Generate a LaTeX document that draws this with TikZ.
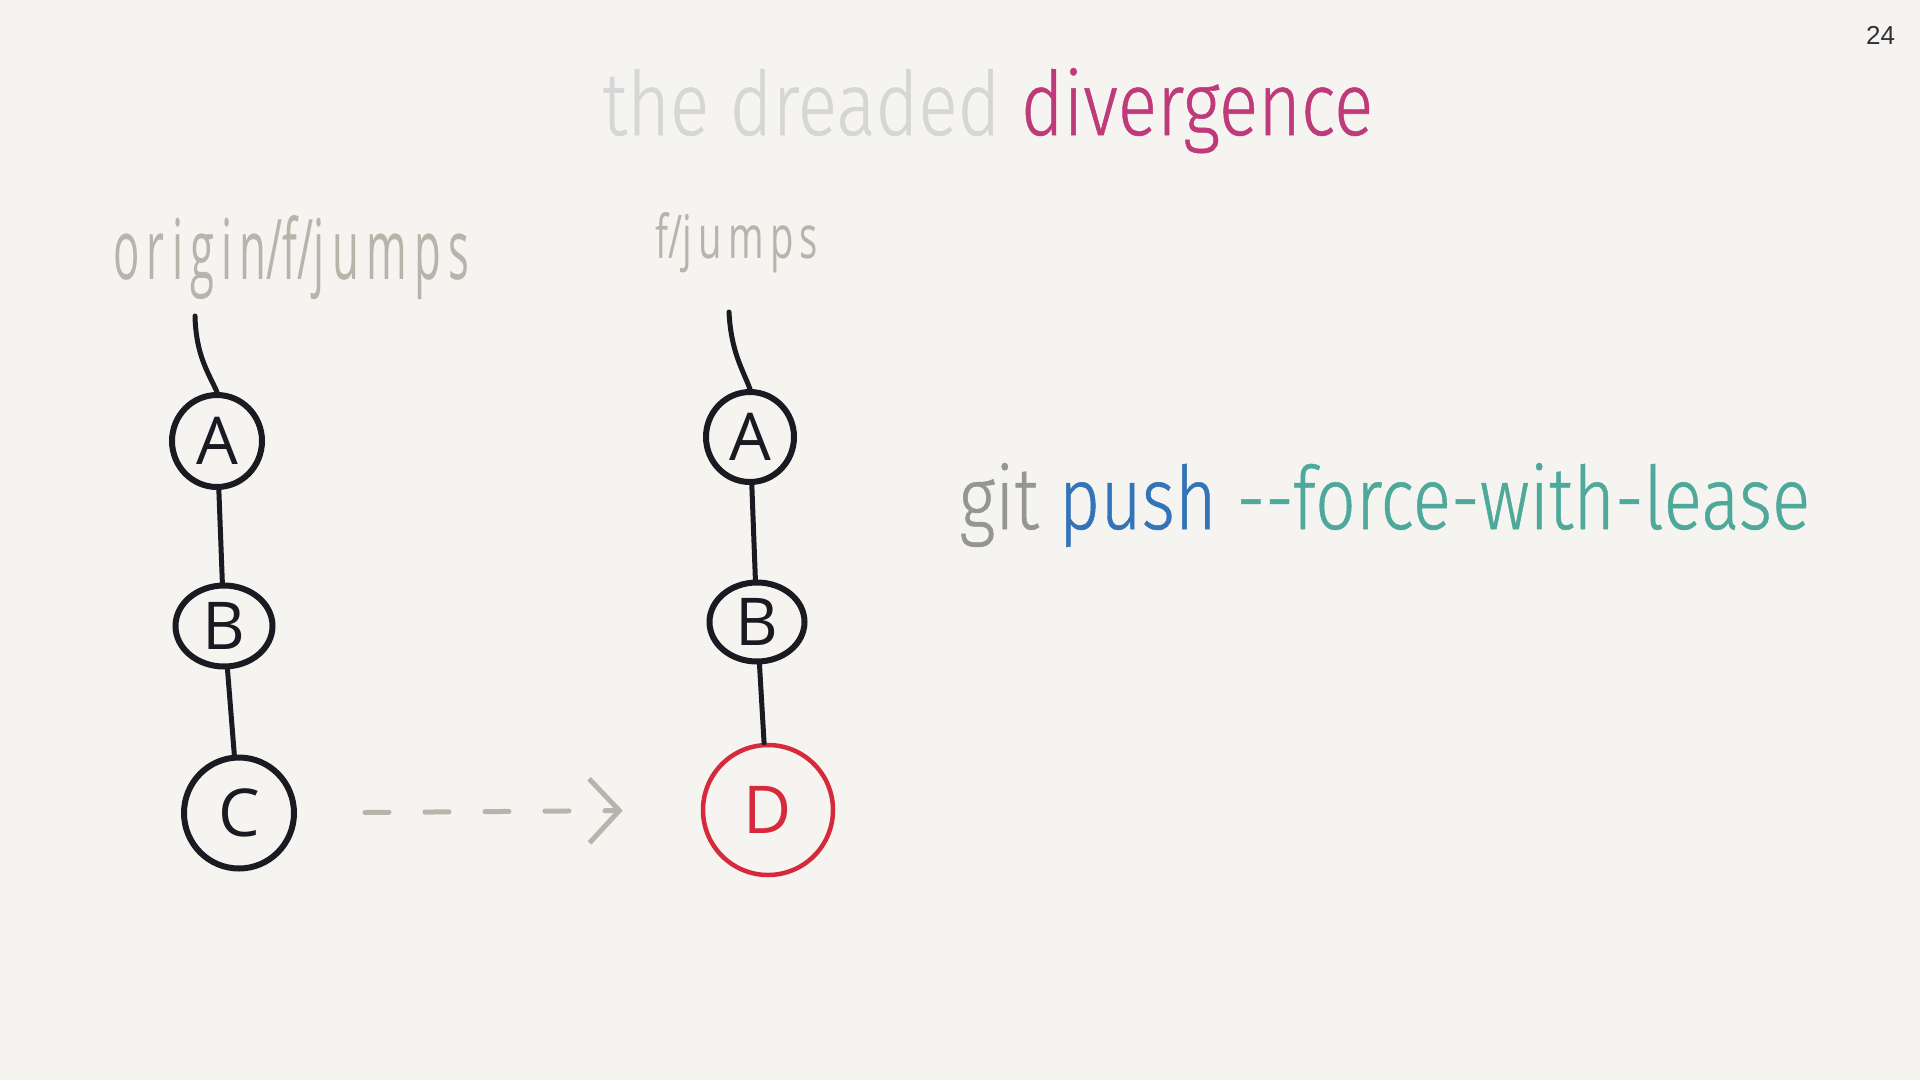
\documentclass[tikz,border=0pt]{standalone}
\usepackage{fontspec}
\setmainfont{Carlito}
\newfontfamily\lightfont[FakeBold=0.6]{Fira Sans Light}
\newfontfamily\handfont{Open Sans}
\newfontfamily\numfont{Liberation Sans}
\usetikzlibrary{arrows.meta,shapes.geometric}
\definecolor{bgc}{HTML}{F5F4F0}
\definecolor{titlegray}{HTML}{D6D6D6}
\definecolor{magentac}{HTML}{BF3A7A}
\definecolor{gitgray}{HTML}{959595}
\definecolor{pushblue}{HTML}{3373B8}
\definecolor{teal}{HTML}{4EA99B}
\definecolor{handgray}{HTML}{B7B4AC}
\definecolor{ink}{HTML}{1B1A22}
\definecolor{redc}{HTML}{D62A3C}
\tikzset{
  commit/.style={ellipse, draw=ink, line width=6pt, inner sep=0pt, text=ink,
    font=\handfont\fontsize{66}{66}\selectfont},
  newcommit/.style={commit, draw=redc, text=redc, line width=4.5pt},
  edge/.style={draw=ink, line width=5pt, line cap=round},
  handlabel/.style={inner sep=0pt, text=handgray, font=\handfont},
  pusharrow/.style={draw=handgray, line width=5pt, line cap=round, line join=round,
    dash pattern=on 24pt off 36pt,
    -{Straight Barb[length=30pt, width=64pt, line width=5pt]}}
}
\begin{document}
\begin{tikzpicture}[x=1pt,y=-1pt]
\fill[bgc] (0,0) rectangle (1920,1080);
\useasboundingbox (0,0) rectangle (1920,1080);

% page number
\node[anchor=base west, inner sep=0pt, text=ink!90, font=\numfont\fontsize{26}{26}\selectfont] (pg) at (1866,44) {24};

% title
\node[anchor=base west, inner sep=0pt] (title) at (602,135)
  {\resizebox{771pt}{67pt}{\lightfont\fontsize{90}{90}\selectfont\textcolor{titlegray}{the dreaded} \textcolor{magentac}{divergence}}};

% command
\node[anchor=base west, inner sep=0pt] (cmd) at (959,529)
  {\resizebox{851pt}{66pt}{\lightfont\fontsize{90}{90}\selectfont\textcolor{gitgray}{git} \textcolor{pushblue}{push} \textcolor{teal}{-{}-force-with-lease}}};

% branch labels
\node[handlabel, anchor=base west] (lbl1) at (113,279)
  {\resizebox{356pt}{64pt}{\fontsize{60}{60}\selectfont o\,r\,i\,g\,i\,n/f/j\,u\,m\,p\,s}};
\node[handlabel, anchor=base west] (lbl2) at (655,258)
  {\resizebox{163pt}{46pt}{\fontsize{60}{60}\selectfont f/j\,u\,m\,p\,s}};

% left column
\node[commit, minimum width=90pt, minimum height=92pt] (la) at (217,441) {A};
\node[commit, minimum width=97pt, minimum height=81pt] (lb) at (224,626) {B};
\node[commit, minimum width=110pt, minimum height=111pt] (lc) at (239,813) {C};
\coordinate (lt) at (195,316);
\draw[edge] (lt) .. controls (196,355) and (208,372) .. (la.north);
\draw[edge] (la) -- (lb);
\draw[edge] (lb) -- (lc);

% right column
\node[commit, minimum width=88pt, minimum height=90pt] (ra) at (750,437) {A};
\node[commit, minimum width=95pt, minimum height=79pt] (rb) at (757,622) {B};
\node[newcommit, minimum width=130pt, minimum height=130pt] (rd) at (768,810) {D};
\coordinate (rt) at (729,312);
\draw[edge] (rt) .. controls (731,352) and (743,370) .. (ra.north);
\draw[edge] (ra) -- (rb);
\draw[edge] (rb) -- (rd);

% push arrow
\draw[pusharrow, shorten <=68pt, shorten >=78pt] (lc.east) -- (rd.west);
\end{tikzpicture}
\end{document}
